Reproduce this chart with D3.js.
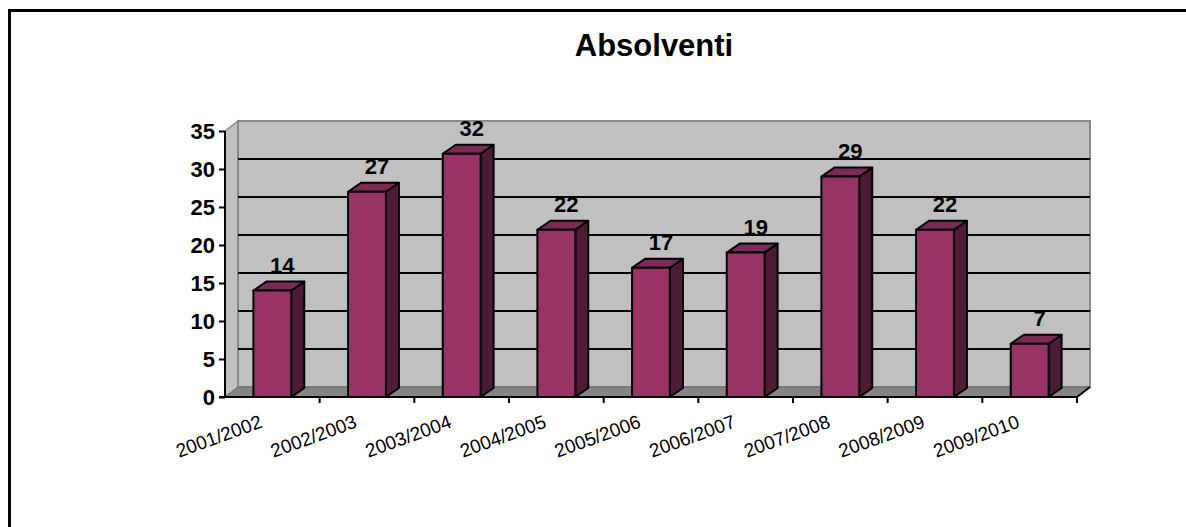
<!DOCTYPE html>
<html>
<head>
<meta charset="utf-8">
<script src="https://cdn.jsdelivr.net/npm/d3@7"></script>
<style>
  html, body { margin: 0; padding: 0; background: #ffffff; }
  svg { display: block; }
</style>
</head>
<body>
<script>
// ---- data ----
const title = "Absolventi";
const categories = ["2001/2002", "2002/2003", "2003/2004", "2004/2005", "2005/2006",
                    "2006/2007", "2007/2008", "2008/2009", "2009/2010"];
const values = [14, 27, 32, 22, 17, 19, 29, 22, 7];
const yTicks = [0, 5, 10, 15, 20, 25, 30, 35];

// ---- layout ----
const W = 1186, H = 527;
const X0 = 225, X1 = 1077, YB = 397, YT = 131;
const DX = 13, DY = -10;      // wall depth
const BDX = 13, BDY = -9;     // bar depth
const FONT = "Liberation Sans, Arial, sans-serif";

const svg = d3.select("body").append("svg").attr("width", W).attr("height", H);

// outer frame
svg.append("rect").attr("x", 9.5).attr("y", 10.5).attr("width", 1300).attr("height", 700)
  .attr("fill", "#fff").attr("stroke", "#000").attr("stroke-width", 3);

const y = d3.scaleLinear().domain([0, 35]).range([YB, YT]);
const xCat = d3.scaleBand().domain(categories).range([X0, X1]);
const xBar = d3.scaleBand().domain(categories).range([X0, X1]).paddingInner(0.6).paddingOuter(0.3);

// side wall
svg.append("polygon")
  .attr("points", [[X0, YB], [X0, YT], [X0 + DX, YT + DY], [X0 + DX, YB + DY]].map(p => p.join(",")).join(" "))
  .attr("fill", "#c0c0c0").attr("stroke", "#8a8a8a").attr("stroke-width", 1.5);
// back wall
svg.append("rect").attr("x", X0 + DX).attr("y", YT + DY)
  .attr("width", X1 - X0).attr("height", YB - YT)
  .attr("fill", "#c0c0c0").attr("stroke", "#8a8a8a").attr("stroke-width", 2);
// floor
svg.append("polygon")
  .attr("points", [[X0, YB], [X1, YB], [X1 + DX, YB + DY], [X0 + DX, YB + DY]].map(p => p.join(",")).join(" "))
  .attr("fill", "#858585").attr("stroke", "#6a6a6a").attr("stroke-width", 1);

// gridlines on back wall
svg.append("g").selectAll("line").data(yTicks.filter(v => v > 0 && v < 35)).join("line")
  .attr("x1", X0 + DX).attr("x2", X1 + DX)
  .attr("y1", d => y(d) + DY).attr("y2", d => y(d) + DY)
  .attr("stroke", "#000").attr("stroke-width", 2);

// y axis
const yAxis = svg.append("g").attr("transform", `translate(${X0},0)`)
  .call(d3.axisLeft(y).tickValues(yTicks).tickSize(6).tickPadding(4));
yAxis.select(".domain").remove();
yAxis.selectAll(".tick line").attr("stroke", "#000").attr("stroke-width", 2);
yAxis.selectAll(".tick text")
  .attr("font-family", FONT)
  .attr("font-weight", "bold").attr("font-size", 22).attr("fill", "#000");
svg.append("line").attr("x1", X0).attr("x2", X0).attr("y1", YT).attr("y2", YB + 1)
  .attr("stroke", "#000").attr("stroke-width", 2);

// x axis line + ticks
svg.append("line").attr("x1", X0 - 6).attr("x2", X1).attr("y1", YB).attr("y2", YB)
  .attr("stroke", "#000").attr("stroke-width", 2);
svg.append("line").attr("x1", X1).attr("x2", X1 + DX).attr("y1", YB).attr("y2", YB + DY)
  .attr("stroke", "#000").attr("stroke-width", 2);
const bounds = categories.map(c => xCat(c)).concat([X1]);
svg.append("g").selectAll("line").data(bounds.slice(1)).join("line")
  .attr("x1", d => d).attr("x2", d => d).attr("y1", YB).attr("y2", YB + 6)
  .attr("stroke", "#000").attr("stroke-width", 2);

// bars
const bars = svg.append("g");
categories.forEach((c, i) => {
  const x = xBar(c), w = xBar.bandwidth(), top = y(values[i]);
  const g = bars.append("g");
  const poly = (pts, fill) => g.append("polygon")
    .attr("points", pts.map(q => q.join(",")).join(" ")).attr("fill", fill)
    .attr("stroke", "#000").attr("stroke-width", 2).attr("stroke-linejoin", "round");
  poly([[x + w, YB], [x + w, top], [x + w + BDX, top + BDY], [x + w + BDX, YB + BDY]], "#4e1b37");
  poly([[x, top], [x + w, top], [x + w + BDX, top + BDY], [x + BDX, top + BDY]], "#7b2a57");
  poly([[x, YB], [x, top], [x + w, top], [x + w, YB]], "#993366");
});

// value labels
svg.append("g").selectAll("text").data(values).join("text")
  .attr("x", (d, i) => xBar(categories[i]) + xBar.bandwidth() / 2 + 10)
  .attr("y", d => y(d) - 18)
  .attr("text-anchor", "middle")
  .attr("font-family", FONT)
  .attr("font-weight", "bold").attr("font-size", 22).attr("fill", "#000")
  .text(d => d);

// category labels
svg.append("g").selectAll("text").data(categories).join("text")
  .attr("transform", d => `translate(${xCat(d) + xCat.bandwidth() / 2 - 9},${YB + 30}) rotate(-20)`)
  .attr("text-anchor", "end")
  .attr("font-family", FONT)
  .attr("font-size", 19).attr("fill", "#000")
  .text(d => d);

// title
svg.append("text").attr("x", 654).attr("y", 56).attr("text-anchor", "middle")
  .attr("font-family", FONT)
  .attr("font-weight", "bold").attr("font-size", 31).attr("fill", "#000")
  .text(title);
</script>
</body>
</html>
